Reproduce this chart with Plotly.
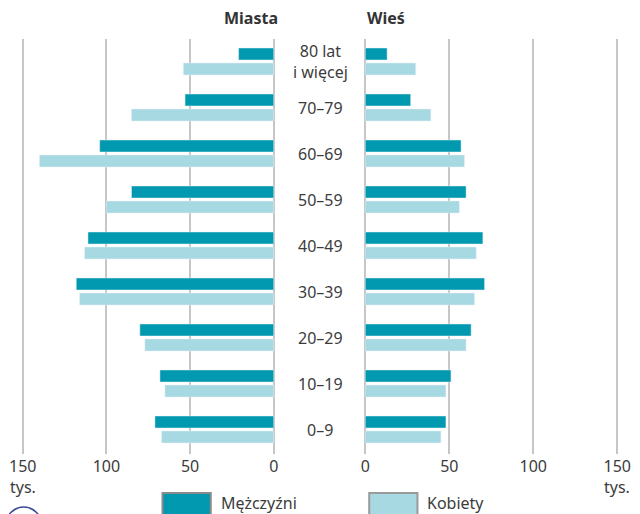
import plotly.graph_objects as go

# ---- data ----
age_groups = ["0–9", "10–19", "20–29", "30–39", "40–49", "50–59", "60–69", "70–79", "80 lat<br>i więcej"]
miasta_mezczyzni = [71, 68, 80, 118, 111, 85, 104, 53, 21]
miasta_kobiety = [67, 65, 77, 116, 113, 100, 140, 85, 54]
wies_mezczyzni = [48, 51, 63, 71, 70, 60, 57, 27, 13]
wies_kobiety = [45, 48, 60, 65, 66, 56, 59, 39, 30]
tick_vals = [0, 50, 100, 150]
tick_text = ["0", "50", "100", "150"]
unit_label = "tys."

W, H = 640, 514
TOP, BOTTOM = 39, 454
C_M = "#0099b0"
C_K = "#a6d9e2"
GRID = "#c6c6c6"
TXT = "#3c3c3c"
FONT = "Noto Sans"

pos = list(range(len(age_groups)))
unit = 46.0  # px per group
y_lo = -(BOTTOM - 429.5) / unit
y_hi = 8 + (61.5 - TOP) / unit
bw = 12 / unit
off_m = 7.5 / unit - bw / 2
off_k = -7.5 / unit - bw / 2


def px_x(px):
    return px / W


def px_y(py):
    return (BOTTOM - py) / (BOTTOM - TOP)


# left axis: 150 at px 18, 0 at px 273
lk = (273 - 18) / 150
l_range = [155, -3]
l_dom = [px_x(273 - 155 * lk), px_x(273 + 3 * lk)]
# right axis: 0 at px 366, 150 at px 622
rk = (622 - 366) / 150
r_range = [-3, 155]
r_dom = [px_x(366 - 3 * rk), px_x(366 + 155 * rk)]

fig = go.Figure()
fig.add_trace(go.Bar(y=pos, x=miasta_mezczyzni, orientation="h", marker_color=C_M,
                     width=bw, offset=off_m, xaxis="x", yaxis="y", name="Mężczyźni",
                     showlegend=False, hoverinfo="x"))
fig.add_trace(go.Bar(y=pos, x=miasta_kobiety, orientation="h", marker_color=C_K,
                     width=bw, offset=off_k, xaxis="x", yaxis="y", name="Kobiety",
                     showlegend=False, hoverinfo="x"))
fig.add_trace(go.Bar(y=pos, x=wies_mezczyzni, orientation="h", marker_color=C_M,
                     width=bw, offset=off_m, xaxis="x2", yaxis="y", name="Mężczyźni",
                     showlegend=False, hoverinfo="x"))
fig.add_trace(go.Bar(y=pos, x=wies_kobiety, orientation="h", marker_color=C_K,
                     width=bw, offset=off_k, xaxis="x2", yaxis="y", name="Kobiety",
                     showlegend=False, hoverinfo="x"))

axis_common = dict(
    tickmode="array", tickvals=tick_vals, ticktext=tick_text,
    showgrid=True, gridcolor=GRID, gridwidth=2, zeroline=False,
    showline=False, ticks="", ticklabelstandoff=1,
    tickfont=dict(family=FONT, size=16, color=TXT), fixedrange=True,
)

annotations = []
for p, lab in zip(pos, age_groups):
    annotations.append(dict(x=0.5, xref="paper", y=p, yref="y", text=lab, showarrow=False,
                            font=dict(family=FONT, size=16, color=TXT), align="center",
                            xanchor="center", yanchor="middle"))
annotations.append(dict(x=px_x(279), xref="paper", y=px_y(18), yref="paper", text="<b>Miasta</b>",
                        showarrow=False, xanchor="right", yanchor="middle",
                        font=dict(family=FONT, size=16, color="#333333")))
annotations.append(dict(x=px_x(366), xref="paper", y=px_y(18), yref="paper", text="<b>Wieś</b>",
                        showarrow=False, xanchor="left", yanchor="middle",
                        font=dict(family=FONT, size=16, color="#333333")))
# unit labels under the 150 ticks
annotations.append(dict(x=150, xref="x", y=px_y(487), yref="paper", text=unit_label,
                        showarrow=False, xanchor="center", yanchor="middle",
                        font=dict(family=FONT, size=16, color=TXT)))
annotations.append(dict(x=150, xref="x2", y=px_y(487), yref="paper", text=unit_label,
                        showarrow=False, xanchor="center", yanchor="middle",
                        font=dict(family=FONT, size=16, color=TXT)))
# legend
annotations.append(dict(x=px_x(217), xref="paper", y=px_y(503), yref="paper", text="Mężczyźni",
                        showarrow=False, xanchor="left", yanchor="middle",
                        font=dict(family=FONT, size=16, color=TXT)))
annotations.append(dict(x=px_x(427), xref="paper", y=px_y(503), yref="paper", text="Kobiety",
                        showarrow=False, xanchor="left", yanchor="middle",
                        font=dict(family=FONT, size=16, color=TXT)))

shapes = [
    dict(type="rect", xref="paper", yref="paper", x0=px_x(160), x1=px_x(209),
         y0=px_y(493), y1=px_y(517), fillcolor=C_M, line=dict(color="#8a8a8a", width=2)),
    dict(type="rect", xref="paper", yref="paper", x0=px_x(370), x1=px_x(419),
         y0=px_y(493), y1=px_y(517), fillcolor=C_K, line=dict(color="#9a9a9a", width=2)),
    dict(type="circle", xref="paper", yref="paper", x0=px_x(1), x1=px_x(37),
         y0=px_y(507), y1=px_y(543), line=dict(color="#3a4b96", width=1.5)),
]

fig.update_layout(
    width=W, height=H,
    margin=dict(l=0, r=0, t=TOP, b=H - BOTTOM, pad=0),
    paper_bgcolor="white", plot_bgcolor="white",
    barmode="overlay",
    xaxis=dict(domain=l_dom, range=l_range, anchor="y", **axis_common),
    xaxis2=dict(domain=r_dom, range=r_range, anchor="y", **axis_common),
    yaxis=dict(range=[y_lo, y_hi], visible=False, fixedrange=True),
    annotations=annotations,
    shapes=shapes,
    showlegend=False,
)

fig.write_html("out.html", config={"displayModeBar": False})

# remove default page margins so the 640x514 figure fills the window exactly
with open("out.html", "r", encoding="utf-8") as f:
    html = f.read()
html = html.replace("<head>", "<head><style>html,body{margin:0;padding:0;overflow:hidden;}</style>", 1)
with open("out.html", "w", encoding="utf-8") as f:
    f.write(html)
